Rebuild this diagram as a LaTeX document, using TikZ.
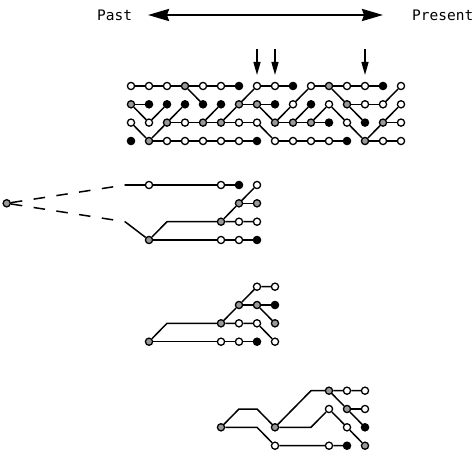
\documentclass[tikz,border=0pt]{standalone}
\usepackage{fontspec}
\newfontfamily\monof{DejaVu Sans Mono}
\usetikzlibrary{arrows.meta}
\begin{document}
\begin{tikzpicture}[x=1pt,y=-1pt,
  nd/.style={circle,draw=black,line width=1.3pt,minimum size=7.2pt,inner sep=0pt},
  sW/.style={nd,fill=white},
  sG/.style={nd,fill=black!40},
  sB/.style={nd,fill=black},
  ln/.style={line width=1.5pt,line join=round},
  dl/.style={line width=1.5pt,dash pattern=on 11.5pt off 11.5pt},
  lbl/.style={font=\monof\fontsize{14.5pt}{16pt}\selectfont,inner sep=0pt},
  smallarrow/.style={line width=1.4pt,-{Triangle[length=13pt,width=7pt]}},
  bigarrow/.style={line width=2.4pt,{Stealth[length=21pt,width=12pt,inset=2pt]}-{Stealth[length=21pt,width=12pt,inset=2pt]}}]
\useasboundingbox (0,0) rectangle (474,452);

% time axis
\node[lbl,anchor=west] (past) at (97,15) {Past};
\node[lbl,anchor=west] (present) at (412,15) {Present};
\coordinate (axl) at (148,15);
\coordinate (axr) at (383,15);
\draw[bigarrow] (axl) -- (axr);

% markers
\foreach \m/\x in {1/257,2/275,3/365}{
  \coordinate (m\m s) at (\x,49);
  \coordinate (m\m e) at (\x,75);
  \draw[smallarrow] (m\m s) -- (m\m e);
}

% top grid nodes
\foreach \k/\a/\b/\c/\d in {0/W/G/W/B,1/W/B/W/G,2/W/B/G/W,3/G/B/W/W,4/W/B/G/W,5/W/B/G/W,6/B/G/W/W,7/W/G/W/B,8/W/B/G/W,9/B/W/G/W,10/W/B/G/W,11/G/W/B/W,12/W/G/W/B,13/W/W/B/G,14/B/W/G/W,15/W/W/W/W}{
  \node[s\a] (t\k-0) at ({131+18*\k},86) {};
  \node[s\b] (t\k-1) at ({131+18*\k},104.3) {};
  \node[s\c] (t\k-2) at ({131+18*\k},122.6) {};
  \node[s\d] (t\k-3) at ({131+18*\k},141) {};
}
% top grid edges
\foreach \k/\i/\j in {0/0/0,0/1/1,0/1/2,0/2/3,
  1/0/0,1/2/1,1/3/2,1/3/3,
  2/0/0,2/2/1,2/2/2,2/3/3,
  3/0/0,3/0/1,3/2/2,3/3/3,
  4/0/0,4/2/1,4/2/2,4/3/3,
  5/0/0,5/2/1,5/2/2,5/3/3,
  6/1/0,6/1/1,6/2/2,6/3/3,
  7/0/0,7/1/1,7/1/2,7/2/3,
  8/0/0,8/2/1,8/2/2,8/3/3,
  9/1/0,9/2/1,9/2/2,9/3/3,
  10/0/0,10/2/1,10/2/2,10/3/3,
  11/0/0,11/0/1,11/1/2,11/3/3,
  12/0/0,12/1/1,12/1/2,12/2/3,
  13/0/0,13/1/1,13/3/2,13/3/3,
  14/1/0,14/2/1,14/2/2,14/3/3}{
  \pgfmathtruncatemacro\kk{\k+1}
  \draw[ln] (t\k-\i) -- (t\kk-\j);
}

% tree 1
\node[sG] (A0) at (6.7,203.3) {};
\coordinate (A1) at (125,185);
\coordinate (A2) at (125,221.7);
\node[sW] (A3) at (149,185) {};
\node[sW] (A4) at (221,185) {};
\node[sB] (A5) at (239,185) {};
\node[sW] (A13) at (257,185) {};
\node[sG] (A11) at (239,203.3) {};
\node[sG] (A12) at (257,203.3) {};
\coordinate (A7) at (167,221.7);
\node[sG] (A8) at (221,221.7) {};
\node[sW] (A9) at (239,221.7) {};
\node[sW] (A10) at (257,221.7) {};
\node[sG] (A6) at (149,240) {};
\node[sW] (A14) at (221,240) {};
\node[sW] (A15) at (239,240) {};
\node[sB] (A16) at (257,240) {};
\draw[dl] (A0) -- (A1);
\draw[dl] (A0) -- (A2);
\draw[ln] (A1) -- (A3) -- (A4) -- (A5);
\draw[ln] (A2) -- (A6);
\draw[ln] (A6) -- (A7) -- (A8) -- (A9) -- (A10);
\draw[ln] (A8) -- (A11) -- (A13);
\draw[ln] (A11) -- (A12);
\draw[ln] (A6) -- (A14) -- (A15) -- (A16);

% tree 2
\node[sG] (B0) at (149,341.7) {};
\coordinate (B1) at (167,323.3);
\node[sG] (B2) at (221,323.3) {};
\node[sW] (B3) at (239,323.3) {};
\node[sW] (B4) at (257,323.3) {};
\node[sW] (B5) at (275,341.7) {};
\node[sG] (B6) at (239,305) {};
\node[sW] (B7) at (257,286.7) {};
\node[sW] (B8) at (275,286.7) {};
\node[sG] (B9) at (257,305) {};
\node[sB] (B10) at (275,305) {};
\node[sG] (B11) at (275,323.3) {};
\node[sW] (B12) at (221,341.7) {};
\node[sW] (B13) at (239,341.7) {};
\node[sB] (B14) at (257,341.7) {};
\draw[ln] (B0) -- (B1) -- (B2) -- (B3) -- (B4) -- (B5);
\draw[ln] (B2) -- (B6) -- (B7) -- (B8);
\draw[ln] (B6) -- (B9) -- (B10);
\draw[ln] (B9) -- (B11);
\draw[ln] (B0) -- (B12) -- (B13) -- (B14);

% tree 3
\node[sG] (C0) at (221,427.3) {};
\coordinate (C1) at (239,409);
\coordinate (C2) at (257,409);
\node[sG] (C3) at (275,427.3) {};
\coordinate (C4) at (257,427.3);
\node[sW] (C5) at (275,445.7) {};
\node[sW] (C6) at (329,445.7) {};
\node[sB] (C7) at (347,445.7) {};
\coordinate (C8) at (311,390.7);
\node[sG] (C9) at (329,390.7) {};
\node[sW] (C10) at (347,390.7) {};
\node[sW] (C11) at (365,390.7) {};
\node[sG] (C12) at (347,409) {};
\node[sB] (C13) at (365,427.3) {};
\node[sW] (C14) at (365,409) {};
\coordinate (C15) at (311,427.3);
\node[sW] (C16) at (329,409) {};
\node[sW] (C17) at (347,427.3) {};
\node[sG] (C18) at (365,445.7) {};
\draw[ln] (C0) -- (C1) -- (C2) -- (C3);
\draw[ln] (C0) -- (C4) -- (C5) -- (C6) -- (C7);
\draw[ln] (C3) -- (C8) -- (C9) -- (C10) -- (C11);
\draw[ln] (C9) -- (C12) -- (C13);
\draw[ln] (C12) -- (C14);
\draw[ln] (C3) -- (C15) -- (C16) -- (C17) -- (C18);
\end{tikzpicture}
\end{document}
